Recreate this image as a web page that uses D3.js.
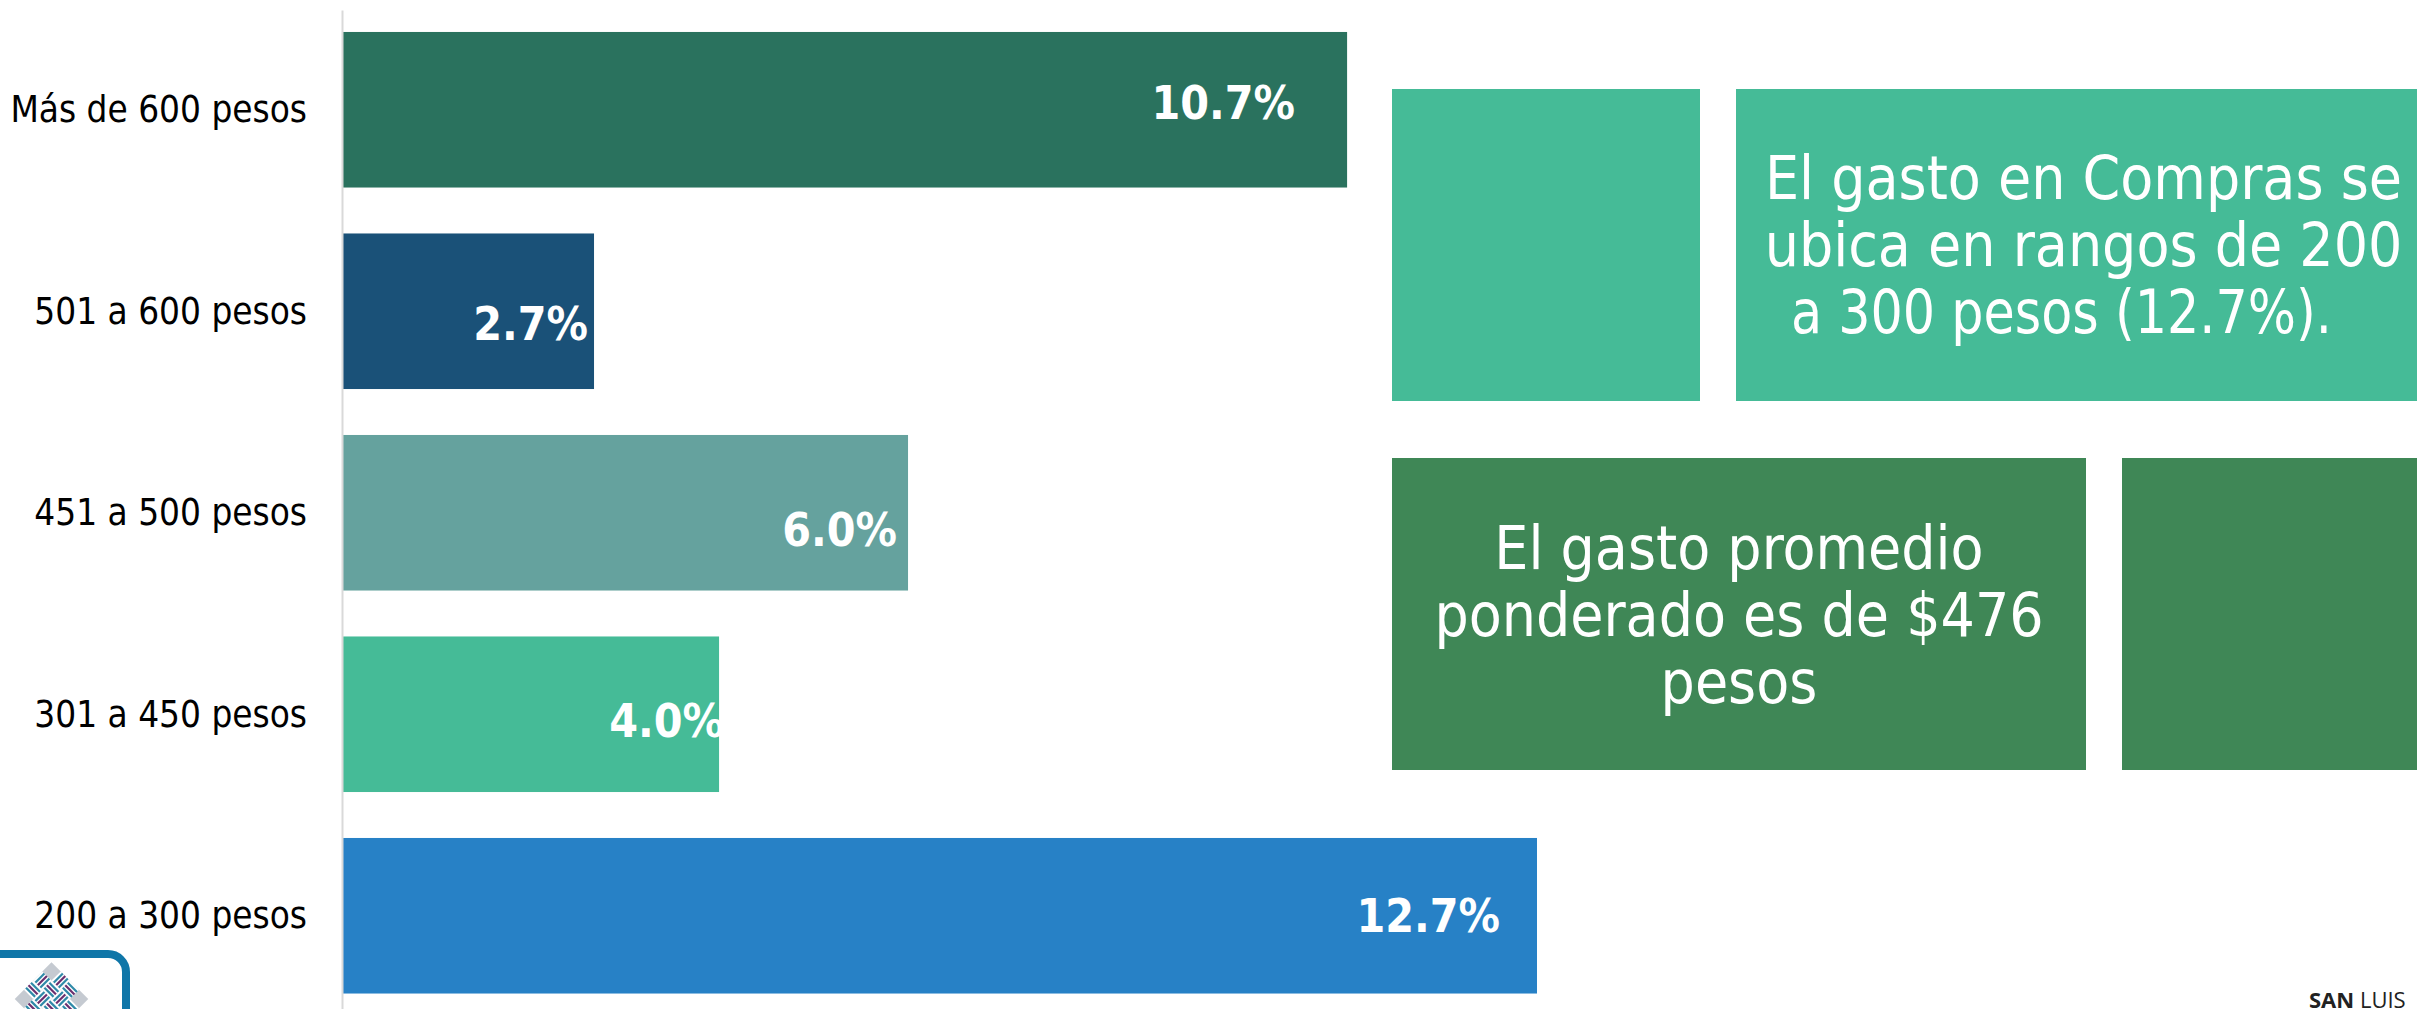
<!DOCTYPE html>
<html lang="es">
<head>
<meta charset="utf-8">
<title>Gasto en Compras</title>
<script src="https://cdn.jsdelivr.net/npm/d3@7"></script>
<style>
  html, body { margin: 0; padding: 0; background: #fff; overflow: hidden; }
  svg { display: block; font-family: "DejaVu Sans Condensed", "DejaVu Sans", sans-serif; }
</style>
</head>
<body>
<svg id="chart"></svg>
<script>
const categories = ["Más de 600 pesos", "501 a 600 pesos", "451 a 500 pesos", "301 a 450 pesos", "200 a 300 pesos"];
const values = [10.68, 2.67, 6.01, 4.0, 12.7];
const notes = [
  ["El gasto en Compras se", "ubica en rangos de 200", "a 300 pesos (12.7%)."],
  ["El gasto promedio", "ponderado es de $476", "pesos"]
];

const w = 2417;
const h = 1009;
const colors = ["#2a725e", "#1a5178", "#65a29e", "#45bb97", "#2781c6"];

const svg = d3.select("#chart").attr("width", w).attr("height", h);

const xScale = d3.scaleLinear().domain([0, 12.7]).range([343, 1537]);
const yScale = d3.scaleBand().domain(categories).range([9, 1016.5]).paddingInner(0.228).paddingOuter(0.114);

// bars
svg
  .selectAll(".bar")
  .data(categories)
  .enter()
  .append("rect")
  .attr("class", "bar")
  .attr("x", xScale(0))
  .attr("y", (d) => yScale(d))
  .attr("width", (d, i) => xScale(values[i]) - xScale(0))
  .attr("height", yScale.bandwidth())
  .attr("fill", (d, i) => colors[i]);

// category axis
const yAxis = d3.axisLeft(yScale).tickSize(0).tickPadding(35);
const axisG = svg.append("g").attr("transform", `translate(${xScale(0) - 1}, 1)`).call(yAxis).attr("font-family", null);
axisG.select(".domain").attr("stroke", "#d9d9d9").attr("stroke-width", 2);
axisG.selectAll("text").attr("font-size", 36.6).attr("fill", "#000");

// the labels were placed by hand in the original, so each one has its own nudge
const labelDx = [-52, -6, -11, 5, -37];
const labelDy = [-7, 12, 17, 6, 0];

svg
  .selectAll(".value")
  .data(categories)
  .enter()
  .append("text")
  .attr("class", "value")
  .attr("x", (d, i) => xScale(values[i]) + labelDx[i])
  .attr("y", (d, i) => yScale(d) + yScale.bandwidth() / 2 + labelDy[i])
  .attr("dy", "0.36em")
  .attr("text-anchor", "end")
  .attr("font-size", 46)
  .attr("font-weight", "bold")
  .attr("fill", "#fff")
  .text((d, i) => values[i].toFixed(1) + "%");

// note boxes
const boxes = [
  { x: 1392, y: 89, width: 308, height: 312, fill: "#45bb97" },
  { x: 1736, y: 89, width: 695, height: 312, fill: "#45bb97", note: 0, base: 110 },
  { x: 1392, y: 458, width: 694, height: 312, fill: "#3f8756", note: 1, base: 111 },
  { x: 2122, y: 458, width: 308, height: 312, fill: "#3f8756" }
];

svg
  .selectAll(".box")
  .data(boxes)
  .enter()
  .append("rect")
  .attr("class", "box")
  .attr("x", (d) => d.x)
  .attr("y", (d) => d.y)
  .attr("width", (d) => d.width)
  .attr("height", (d) => d.height)
  .attr("fill", (d) => d.fill);

boxes
  .filter((d) => d.note !== undefined)
  .forEach((d) => {
    notes[d.note].forEach((line, i) => {
      const t = svg
        .append("text")
        .attr("text-anchor", "middle")
        .attr("font-size", 60)
        .attr("fill", "#fff")
        .attr("x", d.x + d.width / 2)
        .attr("y", d.y + d.base + i * 67)
        .text(line);
      // last line of the first note is narrower in the original and sits left of centre
      if (line.endsWith(").")) {
        t.attr("x", d.x + d.width / 2 - 22).attr("textLength", 541).attr("lengthAdjust", "spacingAndGlyphs");
      }
    });
  });

// logo, cut off by the bottom of the page
const logo = svg.append("g");
logo
  .append("rect")
  .attr("x", -40)
  .attr("y", 954)
  .attr("width", 166)
  .attr("height", 100)
  .attr("rx", 18)
  .attr("fill", "#fff")
  .attr("stroke", "#0f76a8")
  .attr("stroke-width", 8);

// basket weave: a 4x4 grid turned 45 degrees, corner cells stay grey
const weave = logo.append("g").attr("transform", "translate(51.5, 999) rotate(45)");
const cell = 13;
weave.append("rect").attr("x", -2 * cell).attr("y", -2 * cell).attr("width", 4 * cell).attr("height", 4 * cell).attr("fill", "#c5cad1");
d3.range(4).forEach((row) => {
  d3.range(4).forEach((col) => {
    if ((row === 0 || row === 3) && (col === 0 || col === 3)) return;
    const cx = (col - 2) * cell;
    const cy = (row - 2) * cell;
    weave.append("rect").attr("x", cx).attr("y", cy).attr("width", cell).attr("height", cell).attr("fill", "#fff");
    [3, 6.5, 10].forEach((o, k) => {
      const flat = (row + col) % 2 === 0;
      weave
        .append("line")
        .attr("x1", flat ? cx : cx + o)
        .attr("y1", flat ? cy + o : cy)
        .attr("x2", flat ? cx + cell : cx + o)
        .attr("y2", flat ? cy + o : cy + cell)
        .attr("stroke", k === 1 ? "#6b2f6e" : "#2f8aa8")
        .attr("stroke-width", 2.2);
    });
  });
});

svg
  .append("text")
  .attr("x", 2309)
  .attr("y", 1008)
  .attr("font-family", "'Open Sans', sans-serif")
  .attr("font-size", 22)
  .attr("fill", "#222")
  .html('<tspan font-weight="bold">SAN</tspan> LUIS');
</script>
</body>
</html>
